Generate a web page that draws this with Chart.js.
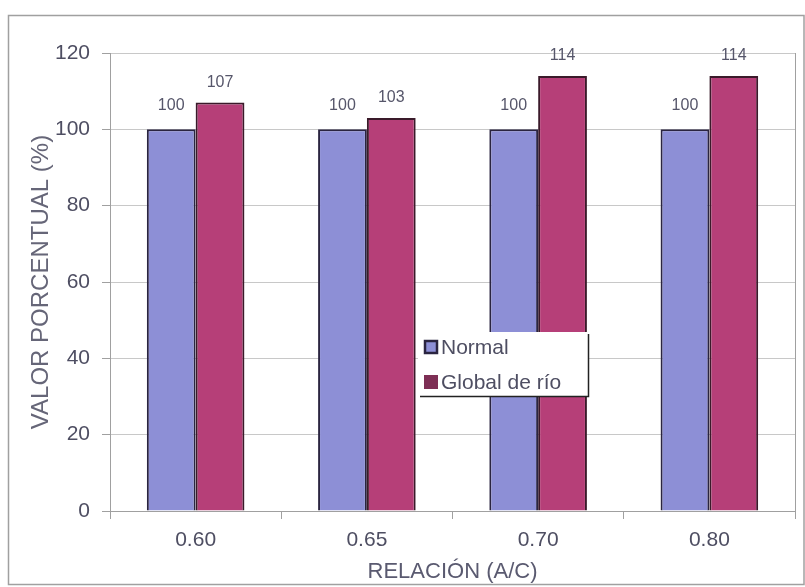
<!DOCTYPE html>
<html>
<head>
<meta charset="utf-8">
<script src="https://cdn.jsdelivr.net/npm/chart.js@4/dist/chart.umd.min.js"></script>
<style>
  html, body { margin: 0; padding: 0; background: #ffffff; }
  #wrap { width: 805px; height: 587px; position: relative; }
</style>
</head>
<body>
<div id="wrap"><canvas id="c" width="805" height="587"></canvas></div>
<script>
// Water/cement ratios on the x axis
const categories = ['0.60', '0.65', '0.70', '0.80'];
// Percentage values for each sand type
const normalValues = [100, 100, 100, 100];
const globalRioValues = [107, 103, 114, 114];
const seriesNames = ['Normal', 'Global de río'];
const yTicks = [0, 20, 40, 60, 80, 100, 120];

const FONT = '"Liberation Sans", Arial, sans-serif';
const TEXT = '#4e4e62';

// Outer frame around the whole figure and right edge of the plot area
const framePlugin = {
  id: 'frame',
  beforeDraw(chart) {
    const ctx = chart.ctx;
    ctx.save();
    ctx.fillStyle = '#ffffff';
    ctx.fillRect(0, 0, chart.width, chart.height);
    ctx.strokeStyle = '#a0a0a0';
    ctx.lineWidth = 1.5;
    ctx.strokeRect(8.5, 15.5, 795.5, 569);
    ctx.restore();
  },
  afterDatasetsDraw(chart) {
    const a = chart.chartArea;
    const ctx = chart.ctx;
    ctx.save();
    ctx.strokeStyle = '#a0a0a0';
    ctx.lineWidth = 1;
    ctx.beginPath();
    ctx.moveTo(a.right + 0.5, a.top);
    ctx.lineTo(a.right + 0.5, a.bottom);
    ctx.stroke();
    ctx.restore();
  }
};

// Value labels above each bar
const valueLabels = {
  id: 'valueLabels',
  afterDatasetsDraw(chart) {
    const ctx = chart.ctx;
    ctx.save();
    ctx.font = '16px ' + FONT;
    ctx.fillStyle = '#56566a';
    ctx.textAlign = 'center';
    ctx.textBaseline = 'middle';
    chart.data.datasets.forEach((ds, i) => {
      const meta = chart.getDatasetMeta(i);
      meta.data.forEach((bar, j) => {
        const off = i === 0 ? 24 : 20;
        ctx.fillText(String(ds.data[j]), bar.x, bar.y - off);
      });
    });
    ctx.restore();
  }
};

// Boxed legend placed inside the plot area
const innerLegend = {
  id: 'innerLegend',
  afterDraw(chart) {
    const a = chart.chartArea;
    const ctx = chart.ctx;
    const x = Math.round(a.left + (a.right - a.left) * 0.450);
    const y = Math.round(a.top + (a.bottom - a.top) * 0.610);
    const w = 170, h = 64;
    ctx.save();
    ctx.fillStyle = '#ffffff';
    ctx.fillRect(x, y, w, h);
    ctx.strokeStyle = '#222222';
    ctx.lineWidth = 1.5;
    ctx.beginPath();
    ctx.moveTo(x + w + 0.5, y + 2);
    ctx.lineTo(x + w + 0.5, y + h + 0.5);
    ctx.lineTo(x + 2, y + h + 0.5);
    ctx.stroke();
    ctx.font = '21px ' + FONT;
    ctx.textBaseline = 'middle';
    ctx.textAlign = 'left';
    const markerFill = ['#8d8fd6', '#7e2f55'];
    chart.data.datasets.forEach((ds, i) => {
      const ry = y + 15 + i * 35;
      ctx.fillStyle = markerFill[i];
      ctx.fillRect(x + 6, ry - 7, 14, 14);
      if (i === 0) {
        ctx.strokeStyle = '#2a2440';
        ctx.lineWidth = 2.5;
        ctx.strokeRect(x + 7, ry - 6, 12, 12);
      }
      ctx.fillStyle = TEXT;
      ctx.fillText(ds.label, x + 23, ry + 1);
    });
    ctx.restore();
  }
};

new Chart(document.getElementById('c'), {
  type: 'bar',
  data: {
    labels: categories,
    datasets: [
      {
        label: seriesNames[0],
        data: normalValues,
        backgroundColor: '#8d8fd6',
        borderColor: '#2a2440',
        borderWidth: 2,
        barPercentage: 1.0,
        categoryPercentage: 0.57
      },
      {
        label: seriesNames[1],
        data: globalRioValues,
        backgroundColor: '#b63f78',
        borderColor: '#3a1a2a',
        borderWidth: 2,
        barPercentage: 1.0,
        categoryPercentage: 0.57
      }
    ]
  },
  options: {
    responsive: false,
    animation: false,
    devicePixelRatio: 1,
    layout: { padding: { left: 12, right: 10, top: 53, bottom: 0 } },
    plugins: {
      legend: { display: false },
      tooltip: { enabled: false }
    },
    scales: {
      x: {
        grid: {
          offset: true,
          drawOnChartArea: false,
          drawTicks: true,
          tickLength: 8,
          color: '#a0a0a0'
        },
        border: { display: true, color: '#a0a0a0', width: 1 },
        ticks: {
          font: { family: FONT, size: 21 },
          color: TEXT,
          padding: 9
        },
        title: {
          display: true,
          text: 'RELACIÓN (A/C)',
          font: { family: FONT, size: 22 },
          color: '#5a5a70',
          padding: { top: 0, bottom: 2 }
        },
        afterFit(scale) { scale.height = 76; }
      },
      y: {
        min: 0,
        max: 120,
        afterBuildTicks(scale) { scale.ticks = yTicks.map(v => ({ value: v })); },
        grid: {
          color: '#c8c8c8',
          drawTicks: true,
          tickLength: 8,
          tickColor: '#a0a0a0'
        },
        border: { display: true, color: '#a0a0a0', width: 1 },
        ticks: {
          font: { family: FONT, size: 21 },
          color: TEXT,
          padding: 12
        },
        title: {
          display: true,
          text: 'VALOR PORCENTUAL (%)',
          font: { family: FONT, size: 24 },
          color: '#666678',
          padding: { top: 15, bottom: 0 }
        },
        afterFit(scale) { scale.width = 98; }
      }
    }
  },
  plugins: [framePlugin, valueLabels, innerLegend]
});
</script>
</body>
</html>
